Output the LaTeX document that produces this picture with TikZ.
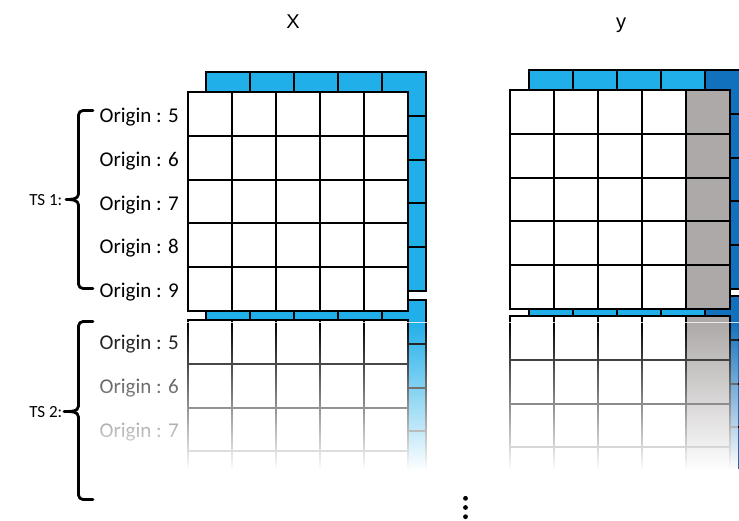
\documentclass[tikz,border=0pt]{standalone}
\usepackage{fontspec}
\setmainfont{Carlito}
\newfontfamily\arialf{Liberation Sans}
\usetikzlibrary{fadings}
\definecolor{lblue}{RGB}{33,175,234}
\definecolor{dblue}{RGB}{18,113,188}
\definecolor{tgray}{RGB}{173,169,168}
\tikzfading[name=fadedown, top color=transparent!100, bottom color=transparent!0]
\tikzset{
  gl/.style={line width=2pt, draw=black, line join=miter},
  orig/.style={anchor=east, inner sep=0pt, font=\fontsize{21}{24}\selectfont},
  tslbl/.style={anchor=east, inner sep=0pt, font=\fontsize{17}{20}\selectfont},
  axlbl/.style={anchor=base, inner sep=0pt, font=\arialf\fontsize{20}{24}\selectfont},
  bracestyle/.style={line width=2.8pt, line cap=round, line join=round},
  dotstyle/.style={circle, fill=black, inner sep=0pt, minimum size=4.8pt}
}
% back grid: #1 x, #2 y, #3 = 1 when last column is dark blue
\newcommand\mybackgrid[3]{%
  \fill[lblue] (#1,#2) rectangle ++(220,219);
  \ifnum#3=1 \fill[dblue] (#1+176,#2) rectangle ++(44,219);\fi
  \foreach \i in {1,...,4} {
    \draw[gl] (#1+\i*44,#2) -- ++(0,219);
    \draw[gl] (#1,#2+\i*43.8) -- ++(220,0);
  }
  \draw[gl] (#1,#2) rectangle ++(220,219);
}
% front grid: #1 x, #2 y, #3 = 1 when last column is grey
\newcommand\myfrontgrid[3]{%
  \fill[white] (#1,#2) rectangle ++(220,219);
  \ifnum#3=1 \fill[tgray] (#1+176,#2) rectangle ++(44,219);\fi
  \foreach \i in {1,...,4} {
    \draw[gl] (#1+\i*44,#2) -- ++(0,219);
    \draw[gl] (#1,#2+\i*43.8) -- ++(220,0);
  }
  \draw[gl] (#1,#2) rectangle ++(220,219);
}
\begin{document}
\begin{tikzpicture}[x=1pt, y=-1pt]
\useasboundingbox (0,0) rectangle (739,520);
\fill[white] (0,0) rectangle (739,520);

% axis titles
\node[axlbl] (tx) at (293,28.3) {X};
\node[axlbl] (ty) at (621,28.3) {y};

\begin{scope}
\clip (0,0) rectangle (739,472);
% back grids
\mybackgrid{206}{72}{0}
\mybackgrid{206}{300}{0}
\mybackgrid{529}{70}{1}
\mybackgrid{529}{296}{1}

% front grids
\myfrontgrid{188}{92}{0}
\myfrontgrid{188}{320}{0}
\myfrontgrid{510}{90}{1}
\myfrontgrid{510}{316}{1}
\end{scope}

% origin labels
\node[orig] (a5) at (179,117) {Origin : 5};
\node[orig] (a6) at (179,161) {Origin : 6};
\node[orig] (a7) at (179,205) {Origin : 7};
\node[orig] (a8) at (179,248.5) {Origin : 8};
\node[orig] (a9) at (179,292) {Origin : 9};
\node[orig] (b5) at (179,344) {Origin : 5};
\node[orig] (b6) at (179,388) {Origin : 6};
\node[orig] (b7) at (179,432) {Origin : 7};

% fade overlay
\fill[white] (92,469) rectangle (739,520);
\fill[white, path fading=fadedown, fit fading=true] (92,322) rectangle (739,470);
\draw[white, opacity=0.8, line width=0.8pt] (92,322.5) -- (739,322.5);

% braces
\draw[bracestyle] (93,110.5) -- (83,110.5) to[out=180,in=90] (78.5,115) -- (78.5,194)
  to[out=-90,in=0] (66,199.5) to[out=0,in=90] (78.5,205) -- (78.5,284)
  to[out=-90,in=180] (83,288.5) -- (93,288.5);
\draw[bracestyle] (93,321.5) -- (83,321.5) to[out=180,in=90] (78.5,326) -- (78.5,406)
  to[out=-90,in=0] (64,411.5) to[out=0,in=90] (78.5,417) -- (78.5,495)
  to[out=-90,in=180] (83,499.5) -- (93,499.5);

% TS labels
\node[tslbl] (ts1) at (62.5,200.5) {TS 1:};
\node[tslbl] (ts2) at (62.5,412) {TS 2:};

% vertical ellipsis
\node[dotstyle] (d1) at (465.5,498.3) {};
\node[dotstyle] (d2) at (465.5,507.5) {};
\node[dotstyle] (d3) at (465.5,516.7) {};
\end{tikzpicture}
\end{document}
